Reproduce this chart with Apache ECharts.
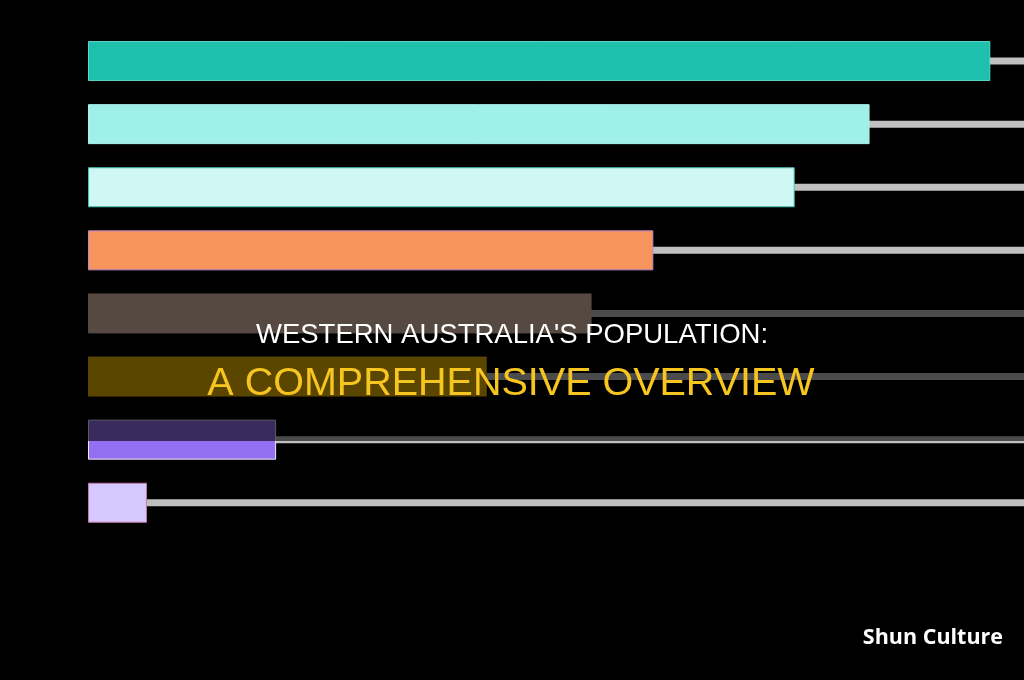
<!DOCTYPE html>
<html>
<head>
<meta charset="utf-8">
<script src="https://cdn.jsdelivr.net/npm/echarts@6/dist/echarts.min.js"></script>
<style>
  html, body { margin: 0; padding: 0; background: #000; }
  #chart { width: 1024px; height: 680px; }
</style>
</head>
<body>
<div id="chart"></div>
<script>
// Data
const categories = ['Perth', 'South West', 'Peel', 'Wheatbelt', 'Great Southern', 'Mid West', 'Pilbara', 'Kimberley'];
const values = [964, 835, 755, 604, 538, 426, 201, 63];
const trackMax = 1000;
const barColors = ['#1fbfae', '#9ef0e8', '#cff8f4', '#f7945c', '#dcbca8', '#eab400', '#9370f2', '#d4c8ff'];
const borderColors = ['#5fd6c8', '#a8f2ea', '#44c4b4', '#b888c8', '#d6b8a4', '#e8b000', '#f0eaff', '#c47aa8'];
const titleLine1 = "WESTERN AUSTRALIA'S POPULATION:";
const titleLine2 = 'A COMPREHENSIVE OVERVIEW';
const watermark = 'Shun Culture';

const chart = echarts.init(document.getElementById('chart'), null, { renderer: 'canvas' });

chart.setOption({
  backgroundColor: '#000000',
  animation: false,
  grid: { left: 88, right: 0, top: 29.5, height: 504.8 },
  xAxis: {
    type: 'value', min: 0, max: trackMax,
    show: false, splitLine: { show: false }
  },
  yAxis: [
    { type: 'category', data: categories, inverse: true, show: false },
    { type: 'category', data: categories, inverse: true, show: false }
  ],
  series: [
    {
      type: 'bar', name: 'track', silent: true, yAxisIndex: 1,
      data: categories.map(() => trackMax),
      barWidth: 7, z: 1,
      itemStyle: { color: '#c0c0c0' }
    },
    {
      type: 'bar', name: 'value', yAxisIndex: 0,
      data: values.map((v, i) => ({
        value: v,
        itemStyle: { color: barColors[i], borderColor: borderColors[i], borderWidth: 1 }
      })),
      barWidth: 40, z: 2
    }
  ],
  graphic: [
    {
      type: 'rect', z: 100,
      shape: { x: 0, y: 282, width: 1024, height: 159 },
      style: { fill: 'rgba(0,0,0,0.61)' }
    },
    {
      type: 'text', z: 101,
      x: 512, y: 335,
      style: {
        text: titleLine1, fill: '#ffffff',
        font: '27.5px "Liberation Sans", Arial, sans-serif',
        textAlign: 'center', textVerticalAlign: 'middle'
      }
    },
    {
      type: 'text', z: 101,
      x: 511, y: 384,
      style: {
        text: titleLine2, fill: '#f7c520',
        font: '39.5px "Liberation Sans", Arial, sans-serif',
        textAlign: 'center', textVerticalAlign: 'middle'
      }
    },
    {
      type: 'text', z: 101,
      x: 1003, y: 638,
      style: {
        text: watermark, fill: '#ffffff',
        font: 'bold 21.5px "Open Sans", Inter, sans-serif',
        textAlign: 'right', textVerticalAlign: 'middle'
      }
    }
  ]
});
</script>
</body>
</html>
